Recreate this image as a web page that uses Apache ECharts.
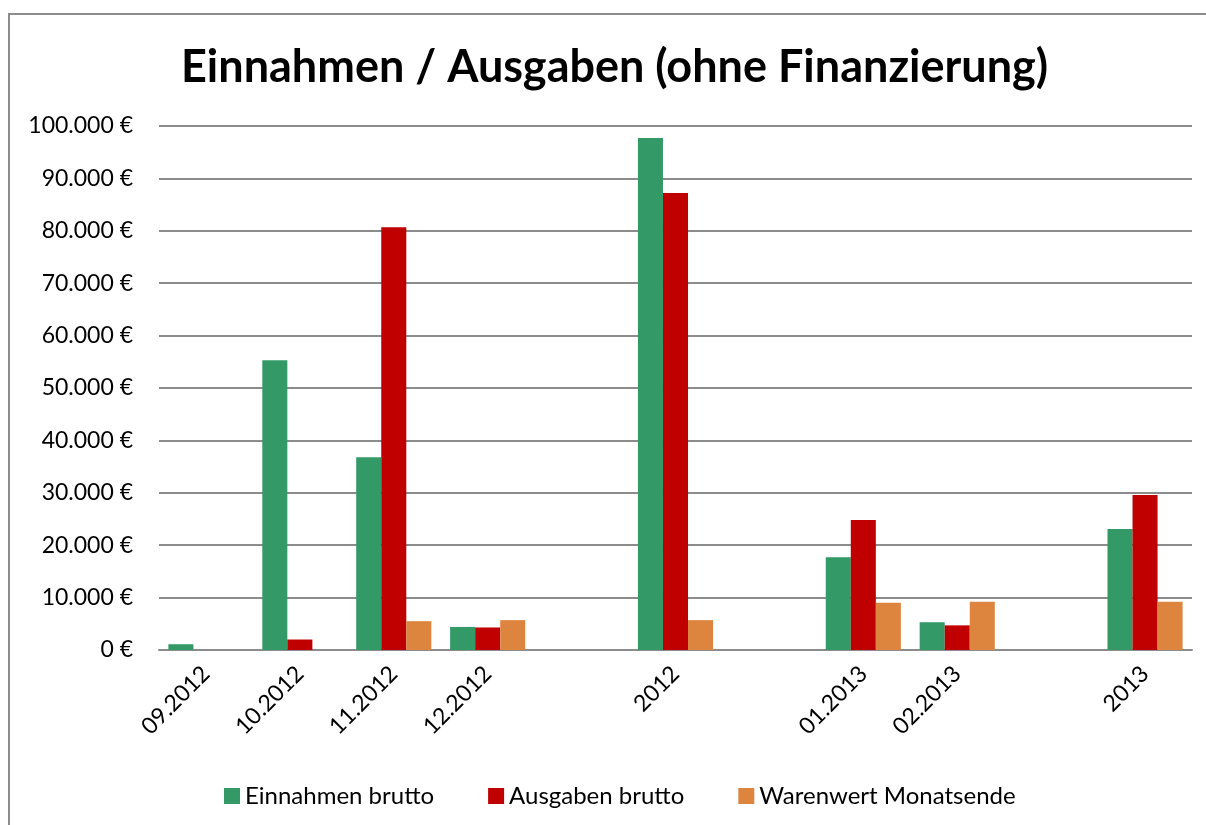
<!DOCTYPE html>
<html>
<head>
<meta charset="utf-8">
<script src="https://cdn.jsdelivr.net/npm/echarts@6/dist/echarts.min.js"></script>
<style>
  html, body { margin: 0; padding: 0; background: #fff; }
  #main { width: 1206px; height: 825px; }
</style>
</head>
<body>
<div id="main"></div>
<script>
// Kategorien (leere Einträge = Lücken im Original)
var categories = ['09.2012', '10.2012', '11.2012', '12.2012', '', '2012', '', '01.2013', '02.2013', '', '2013'];
var einnahmen = [1100, 55300, 36800, 4400, null, 97700, null, 17700, 5300, null, 23100];
var ausgaben = [0, 2000, 80700, 4300, null, 87200, null, 24800, 4700, null, 29600];
var warenwert = [0, 0, 5500, 5700, null, 5700, null, 9000, 9200, null, 9200];
var yTicks = [0, 10000, 20000, 30000, 40000, 50000, 60000, 70000, 80000, 90000, 100000];

function euro(v) {
    return String(v).replace(/\B(?=(\d{3})+(?!\d))/g, '.') + ' €';
}

var myChart = echarts.init(document.getElementById('main'));
var font = 'Lato, "Open Sans", sans-serif';

var option = {
    backgroundColor: '#fff',
    animation: false,
    textStyle: { fontFamily: font },
    title: {
        text: 'Einnahmen / Ausgaben (ohne Finanzierung)',
        left: 176,
        top: 40,
        textStyle: { fontSize: 45, fontWeight: 'bold', color: '#000', fontFamily: font }
    },
    graphic: [{
        type: 'rect',
        shape: { x: 9, y: 14, width: 1400, height: 1000 },
        style: { fill: 'none', stroke: '#8c8c8c', lineWidth: 2 },
        silent: true
    }],
    legend: {
        bottom: 12,
        left: 219,
        itemWidth: 16,
        itemHeight: 16,
        itemGap: 54,
        icon: 'rect',
        textStyle: { fontSize: 24, color: '#000', fontFamily: font },
        data: ['Einnahmen brutto', 'Ausgaben brutto', 'Warenwert Monatsende']
    },
    grid: { left: 159, right: 14, top: 126, bottom: 175 },
    xAxis: {
        type: 'category',
        data: categories,
        axisLine: { lineStyle: { color: '#8c8c8c', width: 2 } },
        axisTick: { show: false },
        axisLabel: {
            rotate: 45,
            interval: 0,
            margin: 20,
            fontSize: 23,
            color: '#000',
            fontFamily: font
        }
    },
    yAxis: {
        type: 'value',
        min: yTicks[0],
        max: yTicks[yTicks.length - 1],
        interval: 10000,
        axisLine: { show: false },
        axisTick: { show: false },
        splitLine: { lineStyle: { color: '#8c8c8c', width: 2 } },
        axisLabel: {
            margin: 26,
            fontSize: 23,
            color: '#000',
            fontFamily: font,
            formatter: euro
        }
    },
    series: [
        { name: 'Einnahmen brutto', type: 'bar', data: einnahmen, itemStyle: { color: '#339966' }, barGap: '0%', barCategoryGap: '20%' },
        { name: 'Ausgaben brutto', type: 'bar', data: ausgaben, itemStyle: { color: '#c00000' }, barGap: '0%', barCategoryGap: '20%' },
        { name: 'Warenwert Monatsende', type: 'bar', data: warenwert, itemStyle: { color: '#dd843f' }, barGap: '0%', barCategoryGap: '20%' }
    ]
};

myChart.setOption(option);
</script>
</body>
</html>
